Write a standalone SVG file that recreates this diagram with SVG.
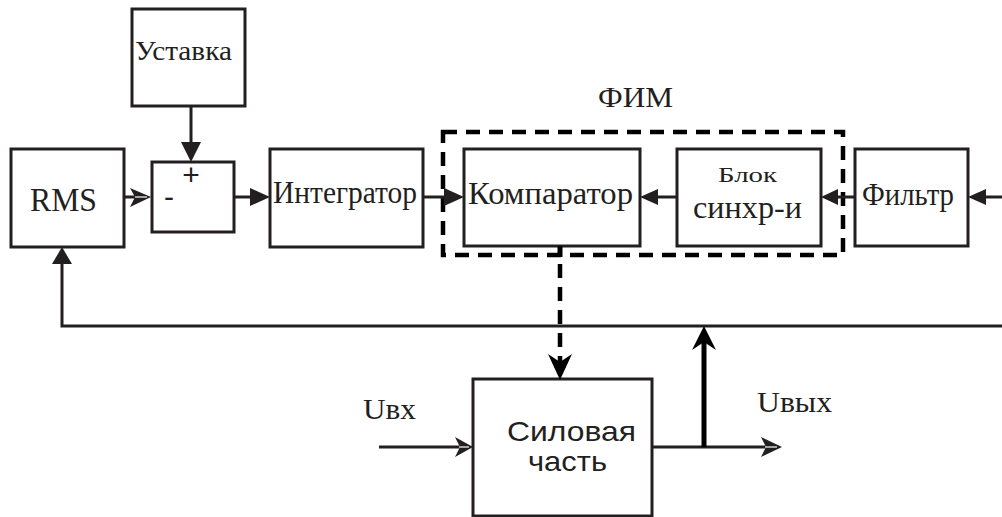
<svg xmlns="http://www.w3.org/2000/svg" width="1002" height="517" viewBox="0 0 1002 517">
  <style>
    .box { fill: #fff; stroke: #231f20; stroke-width: 3; }
    .ln { fill: none; stroke: #231f20; stroke-width: 3; }
    .thick { fill: none; stroke: #000; stroke-width: 5; }
    .dash { fill: none; stroke: #000; stroke-width: 4.5; stroke-dasharray: 14 9; }
    .head { fill: #231f20; stroke: none; }
    .inner { stroke: #fff; stroke-width: 1.2; }
    .serif { font-family: "Liberation Serif", "Times New Roman", serif; fill: #231f20; }
    .sans { font-family: "Liberation Sans", Arial, sans-serif; fill: #231f20; }
  </style>

  <!-- FIM group frame and title -->
  <g id="fim">
    <rect x="443" y="132" width="400" height="123" class="dash"/>
    <text x="598" y="107" class="serif" font-size="29" textLength="75" lengthAdjust="spacingAndGlyphs">ФИМ</text>
  </g>

  <g id="ustavka">
    <rect x="132" y="9" width="113" height="97" class="box"/>
    <text x="135" y="60" class="serif" font-size="28" textLength="97" lengthAdjust="spacingAndGlyphs">Уставка</text>
  </g>

  <g id="rms">
    <rect x="11" y="149" width="113" height="98" class="box"/>
    <text x="30" y="211" class="serif" font-size="33" textLength="67" lengthAdjust="spacingAndGlyphs">RMS</text>
  </g>

  <g id="summator">
    <rect x="152" y="162" width="82" height="70" class="box"/>
    <text x="191" y="185" class="sans" font-size="30" text-anchor="middle">+</text>
    <text x="169" y="207" class="sans" font-size="30" text-anchor="middle">-</text>
  </g>

  <g id="integrator">
    <rect x="270" y="149" width="153" height="98" class="box"/>
    <text x="273" y="203" class="serif" font-size="31" textLength="144" lengthAdjust="spacingAndGlyphs">Интегратор</text>
  </g>

  <g id="comparator">
    <rect x="464" y="149" width="176" height="97" class="box"/>
    <text x="468" y="204" class="serif" font-size="31" textLength="165" lengthAdjust="spacingAndGlyphs">Компаратор</text>
  </g>

  <g id="sync">
    <rect x="677" y="149" width="144" height="97" class="box"/>
    <text x="718" y="182" class="serif" font-size="21" textLength="59" lengthAdjust="spacingAndGlyphs">Блок</text>
    <text x="693" y="218" class="serif" font-size="31" textLength="109" lengthAdjust="spacingAndGlyphs">синхр-и</text>
  </g>

  <g id="filter">
    <rect x="855" y="149" width="113" height="97" class="box"/>
    <text x="862" y="205" class="serif" font-size="31" textLength="92" lengthAdjust="spacingAndGlyphs">Фильтр</text>
  </g>

  <g id="power">
    <rect x="473" y="379" width="179" height="137" class="box"/>
    <text x="507" y="441" class="sans" font-size="28" textLength="129" lengthAdjust="spacingAndGlyphs">Силовая</text>
    <text x="528" y="471" class="sans" font-size="28" textLength="79" lengthAdjust="spacingAndGlyphs">часть</text>
  </g>

  <g id="labels">
    <text x="363" y="419" class="serif" font-size="30" textLength="53" lengthAdjust="spacingAndGlyphs">Uвх</text>
    <text x="757" y="412" class="serif" font-size="30" textLength="75" lengthAdjust="spacingAndGlyphs">Uвых</text>
  </g>

  <g id="connectors">
    <!-- setpoint into summator -->
    <line x1="191" y1="106" x2="191" y2="144" class="ln"/>
    <polygon points="181,142 201,142 191,162" class="head"/>

    <!-- RMS into summator -->
    <line x1="124" y1="197" x2="136" y2="197" class="ln"/>
    <polygon points="130,188 151,197 130,207 135,197" class="head"/>
    <line x1="135" y1="197" x2="147" y2="197" class="inner"/>

    <!-- summator to integrator -->
    <line x1="234" y1="197" x2="252" y2="197" class="ln"/>
    <polygon points="250,188 270,197 250,206" class="head"/>

    <!-- integrator to comparator -->
    <line x1="423" y1="197" x2="446" y2="197" class="ln"/>
    <polygon points="444,188 464,197 444,206" class="head"/>

    <!-- sync block to comparator -->
    <line x1="656" y1="197" x2="677" y2="197" class="ln"/>
    <polygon points="658,189 640,197 658,205" class="head"/>

    <!-- filter to sync block -->
    <line x1="835" y1="197" x2="855" y2="197" class="ln"/>
    <polygon points="838,189 821,197 838,205" class="head"/>

    <!-- input into filter -->
    <line x1="984" y1="197" x2="1002" y2="197" class="ln"/>
    <polygon points="986,189 968,197 986,205" class="head"/>

    <!-- feedback bus back to RMS -->
    <polyline points="1002,326 62,326 62,261" class="ln"/>
    <polygon points="52,264 72,264 62,247" class="head"/>

    <!-- comparator control to power stage (dashed) -->
    <line x1="560" y1="246" x2="560" y2="257" class="thick"/>
    <line x1="560" y1="264" x2="560" y2="362" class="dash" stroke-width="5"/>
    <polygon points="548,354 560,362 572,354 560,380" fill="#000"/>

    <!-- input voltage -->
    <line x1="379" y1="447" x2="460" y2="447" class="ln"/>
    <polygon points="455,437 473,447 455,457 460,447" class="head"/>
    <line x1="459" y1="447" x2="469" y2="447" class="inner"/>

    <!-- output voltage -->
    <line x1="652" y1="447" x2="768" y2="447" class="ln"/>
    <polygon points="761,437 782,447 761,457 766,447" class="head"/>
    <line x1="765" y1="447" x2="777" y2="447" class="inner"/>

    <!-- output tap to feedback bus -->
    <line x1="704" y1="447" x2="704" y2="342" class="thick"/>
    <polygon points="692,350 704,342 716,350 704,326" fill="#000"/>
  </g>
</svg>
